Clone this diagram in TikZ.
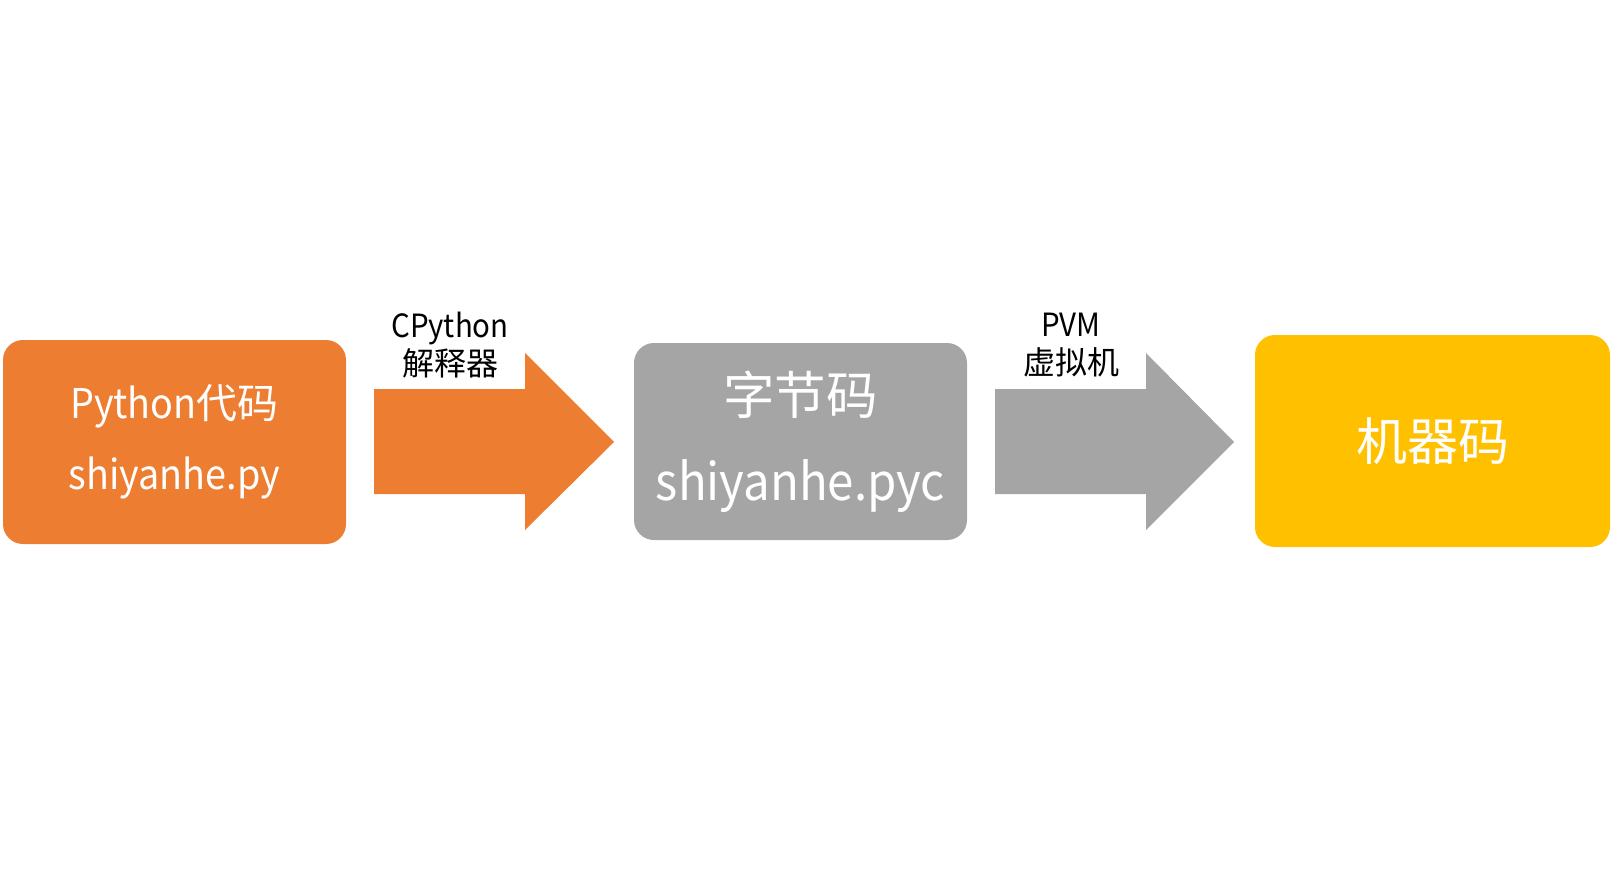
\documentclass[tikz,border=0pt]{standalone}
\usepackage{fontspec}
\setmainfont{Noto Sans CJK SC}[FakeStretch=0.92]
\newfontfamily\cjk{Noto Sans CJK SC}
\definecolor{pyorange}{HTML}{ED7D31}
\definecolor{pygray}{HTML}{A5A5A5}
\definecolor{pyyellow}{HTML}{FFC000}

\begin{document}
\begin{tikzpicture}[x=0.5pt, y=-0.5pt,
        box/.style={rounded corners=10pt, inner sep=0pt, text=white, align=center},
        tag/.style={align=center, text=black, font=\fontsize{16}{19}\selectfont}]

        \useasboundingbox (0,0) rectangle (1613,883);

        % boxes
        \node[box, fill=pyorange, minimum width=171.5pt, minimum height=102pt,
              font=\fontsize{20.5}{35.5}\selectfont] (src) at (174.5,442) {Python{\cjk 代码}\\shiyanhe.py};
        \node[box, fill=pygray, minimum width=166.5pt, minimum height=98.5pt,
              font=\fontsize{25.75}{43}\selectfont] (byte) at (800.5,441.5) {{\cjk 字节码}\\shiyanhe.pyc};
        \node[box, fill=pyyellow, minimum width=177.5pt, minimum height=106pt,
              font=\fontsize{25.5}{30}\selectfont\cjk] (mach) at (1432.5,441) {机器码};

        % fat arrows
        \fill[pyorange] (374,389) -- (525,389) -- (525,353) -- (614,442)
                -- (525,530) -- (525,494) -- (374,494) -- cycle;
        \fill[pygray] (995,389) -- (1146,389) -- (1146,353) -- (1234,442)
                -- (1146,530) -- (1146,494) -- (995,494) -- cycle;

        % labels
        \node[tag] (interp) at (450,345) {CPython\\{\cjk 解释器}};
        \node[tag] (pvm) at (1071,345) {PVM\\{\cjk 虚拟机}};

\end{tikzpicture}
\end{document}
